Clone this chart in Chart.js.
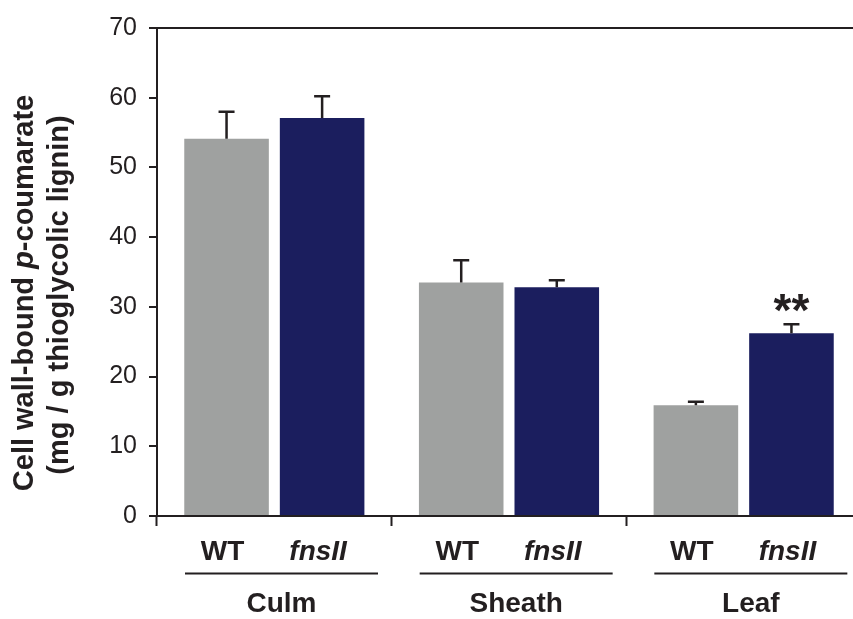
<!DOCTYPE html>
<html>
<head>
<meta charset="utf-8">
<script src="https://cdn.jsdelivr.net/npm/chart.js@4/dist/chart.umd.min.js"></script>
<style>
  html, body { margin: 0; padding: 0; background: #fff; overflow: hidden; }
  canvas { display: block; }
</style>
</head>
<body>
<canvas id="chart" width="864" height="619"></canvas>
<script>
// tissues and genotypes
var tissues = ["Culm", "Sheath", "Leaf"];
var genotypes = ["WT", "fnsII"];

// cell wall-bound p-coumarate, mg / g thioglycolic lignin
var wtValues = [54.1, 33.5, 15.9];
var wtErrors = [3.9, 3.2, 0.5];
var fnsValues = [57.1, 32.8, 26.2];
var fnsErrors = [3.1, 1.0, 1.3];

// significance marks above fnsII bars
var fnsMarks = ["", "", "**"];

var yTicks = [0, 10, 20, 30, 40, 50, 60, 70];

var ink = "#231f20";
var grey = "#9fa1a0";
var navy = "#1b1e5e";
var sans = "'Liberation Sans', Arial, sans-serif";

// error bars, genotype labels, tissue labels and the y title
var annotations = {
    id: "annotations",
    afterDatasetsDraw: function(chart) {
        var ctx = chart.ctx;
        var y = chart.scales.y;
        var x = chart.scales.x;
        var area = chart.chartArea;
        var errs = [wtErrors, fnsErrors];

        ctx.save();
        ctx.strokeStyle = ink;
        ctx.fillStyle = ink;
        ctx.lineWidth = 2.5;

        chart.data.datasets.forEach(function(ds, d) {
            var meta = chart.getDatasetMeta(d);
            meta.data.forEach(function(bar, i) {
                var top = y.getPixelForValue(ds.data[i] + errs[d][i]);
                ctx.beginPath();
                ctx.moveTo(bar.x, bar.y);
                ctx.lineTo(bar.x, top);
                ctx.moveTo(bar.x - 8, top);
                ctx.lineTo(bar.x + 8, top);
                ctx.stroke();

                if (d === 1 && fnsMarks[i]) {
                    ctx.font = "bold 46px " + sans;
                    ctx.textAlign = "center";
                    ctx.textBaseline = "alphabetic";
                    ctx.fillText(fnsMarks[i], bar.x, top + 2);
                }

                // genotype label under each bar
                ctx.font = (d === 1 ? "italic bold 28px " : "bold 28px ") + sans;
                ctx.textAlign = "center";
                ctx.textBaseline = "alphabetic";
                ctx.fillText(genotypes[d], bar.x - 4, 560);
            });
        });

        // tissue labels with rule above
        var step = (area.right - area.left) / tissues.length;
        tissues.forEach(function(t, i) {
            var start = area.left + step * i;
            var x0 = start + 28;
            var x1 = start + 221;
            ctx.lineWidth = 2;
            ctx.beginPath();
            ctx.moveTo(x0, 573.5);
            ctx.lineTo(x1, 573.5);
            ctx.stroke();
            ctx.font = "bold 28px " + sans;
            ctx.textAlign = "center";
            ctx.fillText(t, (x0 + x1) / 2, 612);
        });

        // y title, two lines rotated
        ctx.save();
        ctx.translate(33, 293);
        ctx.rotate(-Math.PI / 2);
        ctx.textBaseline = "alphabetic";
        ctx.textAlign = "left";
        var parts = [
            { text: "Cell wall-bound ", font: "bold 29px " + sans },
            { text: "p", font: "italic bold 29px " + sans },
            { text: "-coumarate", font: "bold 29px " + sans }
        ];
        var total = 0;
        parts.forEach(function(p) {
            ctx.font = p.font;
            total += ctx.measureText(p.text).width;
        });
        var pos = -total / 2;
        parts.forEach(function(p) {
            ctx.font = p.font;
            ctx.fillText(p.text, pos, 0);
            pos += ctx.measureText(p.text).width;
        });
        ctx.restore();

        ctx.save();
        ctx.translate(68, 295);
        ctx.rotate(-Math.PI / 2);
        ctx.font = "bold 29px " + sans;
        ctx.textAlign = "center";
        ctx.textBaseline = "alphabetic";
        ctx.fillText("(mg / g thioglycolic lignin)", 0, 0);
        ctx.restore();

        ctx.restore();
    }
};

var ctx = document.getElementById("chart").getContext("2d");

var myChart = new Chart(ctx, {
    type: "bar",
    data: {
        labels: tissues,
        datasets: [{
            label: genotypes[0],
            data: wtValues,
            backgroundColor: grey,
            categoryPercentage: 0.8145,
            barPercentage: 0.885
        }, {
            label: genotypes[1],
            data: fnsValues,
            backgroundColor: navy,
            categoryPercentage: 0.8145,
            barPercentage: 0.885
        }]
    },
    options: {
        responsive: false,
        animation: false,
        layout: {
            padding: { top: 28, left: 0, right: 3, bottom: 0 }
        },
        plugins: {
            legend: { display: false },
            tooltip: { enabled: false }
        },
        scales: {
            x: {
                grid: {
                    offset: true,
                    drawOnChartArea: false,
                    drawTicks: true,
                    tickLength: 10,
                    tickWidth: 2,
                    tickColor: ink
                },
                border: { color: ink, width: 2 },
                ticks: { display: false },
                afterFit: function(scale) {
                    scale.height = 103;
                }
            },
            y: {
                min: 0,
                max: 70,
                afterBuildTicks: function(scale) {
                    scale.ticks = yTicks.map(function(v) { return { value: v }; });
                },
                grid: {
                    drawOnChartArea: true,
                    color: function(c) {
                        return c.tick && c.tick.value === 70 ? ink : "rgba(0,0,0,0)";
                    },
                    lineWidth: 2,
                    tickLength: 8,
                    tickWidth: 2,
                    tickColor: ink
                },
                border: { color: ink, width: 2 },
                ticks: {
                    color: ink,
                    padding: 12,
                    font: { family: sans, size: 25 }
                },
                afterFit: function(scale) {
                    scale.width = 157;
                }
            }
        }
    },
    plugins: [annotations]
});
</script>
</body>
</html>
